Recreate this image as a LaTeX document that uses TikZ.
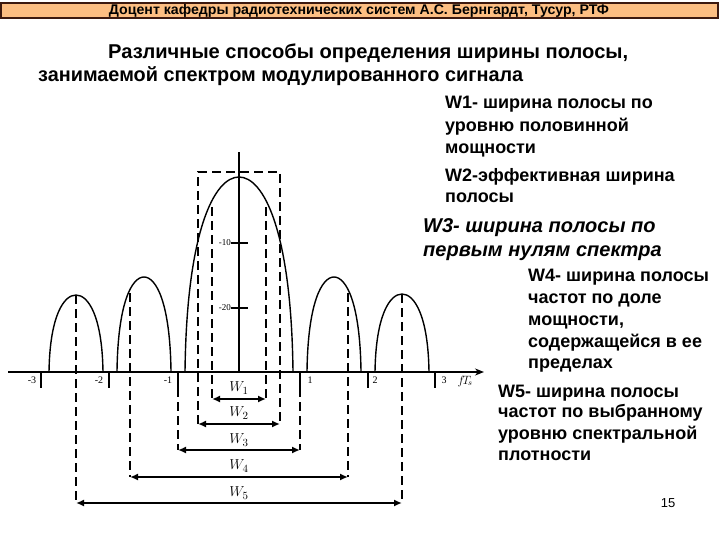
\documentclass[tikz,border=0pt]{standalone}
\usepackage{fontspec}
\usepackage{graphicx}
\setmainfont{Liberation Sans}
\newfontfamily\tmsfont{Liberation Serif}
\usetikzlibrary{arrows.meta}
\definecolor{hdrfill}{RGB}{252,190,130}
\definecolor{hdrline}{RGB}{60,25,15}
\newcommand\speclobe[3]{%
  \pgfmathsetmacro\lw{(#2-#1)/2}%
  \pgfmathsetmacro\lc{(#1+#2)/2}%
  \pgfmathsetmacro\lh{372-#3}%
  \draw[curve] (#1,372) .. controls ({#1+0.03*\lw},{372-0.73*\lh}) and ({\lc-0.45*\lw},#3) .. (\lc,#3)
    .. controls ({\lc+0.45*\lw},#3) and ({#2-0.03*\lw},{372-0.73*\lh}) .. (#2,372);
}
\begin{document}
\begin{tikzpicture}[x=1pt,y=-1pt,
  curve/.style={line width=1.4pt},
  dline/.style={line width=1.7pt, dash pattern=on 9pt off 5pt},
  ax/.style={line width=1.7pt},
  dimarrow/.style={line width=1.7pt, {Latex[length=8pt,width=7pt]}-{Latex[length=8pt,width=7pt]}},
  desc/.style={anchor=base west, inner sep=0pt, font=\fontsize{18}{21}\selectfont\bfseries},
  descit/.style={anchor=base west, inner sep=0pt, font=\fontsize{20}{23}\selectfont\bfseries\itshape},
  ticklab/.style={inner sep=0pt, font=\tmsfont\fontsize{10}{12}\selectfont},
  wlab/.style={inner sep=0pt, font=\tmsfont\itshape\fontsize{15}{17}\selectfont},
]
\useasboundingbox (0,0) rectangle (720,540);
\fill[white] (0,0) rectangle (720,540);
% header
\draw[fill=hdrfill, draw=hdrline, line width=1.2pt] (1,3) rectangle (718,18);
\node[inner sep=0pt] (hdr) at (359,11) {\resizebox{500pt}{\height}{\fontsize{14}{16}\selectfont\bfseries Доцент кафедры радиотехнических систем А.С. Бернгардт, Тусур, РТФ}};
% title
\node[inner sep=0pt, anchor=base west] (t1) at (108,59) {\resizebox{520pt}{\height}{\fontsize{20}{24}\selectfont\bfseries Различные способы определения ширины полосы,}};
\node[inner sep=0pt, anchor=base west] (t2) at (38,82) {\resizebox{485pt}{\height}{\fontsize{20}{24}\selectfont\bfseries занимаемой спектром модулированного сигнала}};
% right-hand descriptions
\node[desc] (d11) at (445,109) {W1- ширина полосы по};
\node[desc] (d12) at (445,132) {уровню половинной};
\node[desc] (d13) at (445,154) {мощности};
\node[desc] (d21) at (445,182) {W2-эффективная ширина};
\node[desc] (d22) at (445,203) {полосы};
\node[descit] (d31) at (423,233) {W3- ширина полосы по};
\node[descit] (d32) at (423,256) {первым нулям спектра};
\node[desc] (d41) at (528,281) {W4- ширина полосы};
\node[desc] (d42) at (528,303) {частот по доле};
\node[desc] (d43) at (528,325) {мощности,};
\node[desc] (d44) at (528,347) {содержащейся в ее};
\node[desc] (d45) at (528,368) {пределах};
\node[desc] (d51) at (498,397) {W5- ширина полосы};
\node[desc] (d52) at (498,417) {частот по выбранному};
\node[desc] (d53) at (498,439) {уровню спектральной};
\node[desc] (d54) at (498,460) {плотности};
\node[inner sep=0pt, font=\fontsize{13}{15}\selectfont] (pg) at (668,503) {15};
% axes
\coordinate (xa0) at (8,372);
\coordinate (xa1) at (484,372);
\draw[ax, -{Stealth[length=9pt,width=7pt]}] (xa0) -- (xa1);
\coordinate (ya0) at (239,372);
\coordinate (ya1) at (239,152);
\draw[ax] (ya0) -- (ya1);
\draw[ax] (231,243) -- (248,243);
\draw[ax] (231,308) -- (248,308);
\node[ticklab, anchor=east, font=\tmsfont\fontsize{9}{11}\selectfont] (ym10) at (231,243) {-10};
\node[ticklab, anchor=east, font=\tmsfont\fontsize{9}{11}\selectfont] (ym20) at (231,308) {-20};
% x ticks
\foreach \tx in {41,109,178,300,368,435} \draw[ax] (\tx,372) -- (\tx,388);
\node[ticklab] (xm3) at (32,380) {-3};
\node[ticklab] (xm2) at (99,380) {-2};
\node[ticklab] (xm1) at (168,380) {-1};
\node[ticklab] (xp1) at (310,380) {1};
\node[ticklab] (xp2) at (375,380) {2};
\node[ticklab] (xp3) at (444,380) {3};
\node[inner sep=0pt, font=\tmsfont\itshape\fontsize{12}{14}\selectfont] (fts) at (465,381) {$f\!T_{\!s}$};
% lobes
\speclobe{49}{103}{295}
\speclobe{117}{171}{277}
\speclobe{185}{293}{177}
\speclobe{307}{361}{277}
\speclobe{375}{429}{294}
% dashed lines
\draw[dline] (198,424) -- (198,172) -- (280,172) -- (280,424);
\draw[dline] (212,207) -- (212,399);
\draw[dline] (266,207) -- (266,399);
\draw[dline] (178,388) -- (178,450);
\draw[dline] (300,388) -- (300,450);
\draw[dline] (130,293) -- (130,477);
\draw[dline] (348,293) -- (348,477);
\draw[dline] (76,295) -- (76,503);
\draw[dline] (402,294) -- (402,503);
% dimension arrows
\coordinate (w1l) at (212,399); \coordinate (w1r) at (266,399);
\coordinate (w2l) at (198,424); \coordinate (w2r) at (280,424);
\coordinate (w3l) at (178,450); \coordinate (w3r) at (300,450);
\coordinate (w4l) at (130,477); \coordinate (w4r) at (348,477);
\coordinate (w5l) at (76,503);  \coordinate (w5r) at (402,503);
\draw[dimarrow] (w1l) -- (w1r);
\draw[dimarrow] (w2l) -- (w2r);
\draw[dimarrow] (w3l) -- (w3r);
\draw[dimarrow] (w4l) -- (w4r);
\draw[dimarrow] (w5l) -- (w5r);
\node[wlab] (lw1) at (239,388) {$W_1$};
\node[wlab] (lw2) at (239,413) {$W_2$};
\node[wlab] (lw3) at (239,440) {$W_3$};
\node[wlab] (lw4) at (239,466) {$W_4$};
\node[wlab] (lw5) at (239,493) {$W_5$};
\end{tikzpicture}
\end{document}
